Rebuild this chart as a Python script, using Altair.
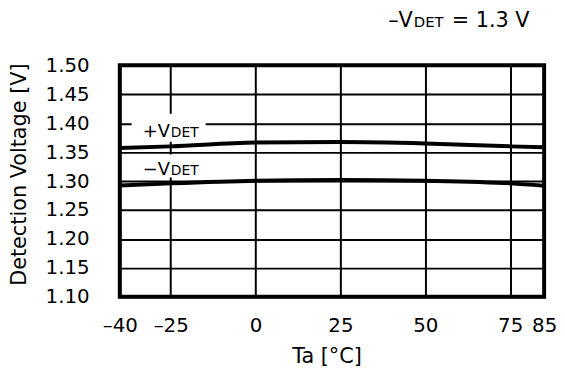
import altair as alt
import pandas as pd

# ---- data ----
temps = [-40, -25, 0, 25, 50, 75, 85]
v_plus = [1.357, 1.360, 1.3665, 1.3675, 1.365, 1.360, 1.3585]
v_minus = [1.2925, 1.296, 1.3005, 1.302, 1.3005, 1.296, 1.292]
x_ticks = [-40, -25, 0, 25, 50, 75, 85]
y_ticks = [1.10, 1.15, 1.20, 1.25, 1.30, 1.35, 1.40, 1.45, 1.50]

# annotation text (positions in data units)
main_text = ["+V", "\u2212V", "\u2013V"]
main_x = [-25.25, -25.25, 46.3]
main_y = [1.377, 1.310, 1.5655]
main_size = [18, 18, 21]
sub_text = ["DET", "DET", "DET"]
sub_size = [14, 14, 15]
tail_text = ["= 1.3 V"]
tail_x = [80.7]
tail_y = [1.5655]
tail_size = [21]

# white label backgrounds (data units)
box_x1 = [-36.5, -36.5]
box_x2 = [-14.7, -14.7]
box_y1 = [1.368, 1.306]
box_y2 = [1.4165, 1.346]

FONT = "DejaVu Sans"

curves = pd.DataFrame({
    "Ta": temps + temps,
    "V": v_plus + v_minus,
    "series": ["+VDET"] * len(temps) + ["-VDET"] * len(temps),
})
main_df = pd.DataFrame({"Ta": main_x, "V": main_y, "t": main_text, "s": main_size})
sub_df = pd.DataFrame({"Ta": main_x, "V": main_y, "t": sub_text, "s": sub_size})
tail_df = pd.DataFrame({"Ta": tail_x, "V": tail_y, "t": tail_text, "s": tail_size})
box_df = pd.DataFrame({"Ta": box_x1, "Ta2": box_x2, "V": box_y1, "V2": box_y2})

xs = alt.Scale(domain=[-40, 85], nice=False, zero=False)
ys = alt.Scale(domain=[1.10, 1.50], nice=False, zero=False)

x_axis = alt.Axis(
    values=x_ticks, title="Ta [\u00b0C]",
    labelExpr="datum.value < 0 ? '\u2013' + (-datum.value) : datum.label",
    grid=True, gridColor="black", gridWidth=2, gridOpacity=1,
    domain=False, ticks=False, tickSize=0,
    labelFlush=False, labelOverlap=False,
    labelPadding=19, labelFont=FONT, labelFontSize=20, labelColor="black",
    titleFont=FONT, titleFontSize=21, titleFontWeight="normal", titleColor="black",
    titlePadding=10, titleX=209,
)
y_axis = alt.Axis(
    values=y_ticks, format=".2f", title="Detection Voltage [V]",
    grid=True, gridColor="black", gridWidth=2, gridOpacity=1,
    domain=False, ticks=False, tickSize=0,
    labelFlush=False, labelOverlap=False,
    labelPadding=31, labelFont=FONT, labelFontSize=20, labelColor="black",
    titleFont=FONT, titleFontSize=21, titleFontWeight="normal", titleColor="black",
    titlePadding=16, titleY=110,
)

X = alt.X("Ta:Q", scale=xs, axis=x_axis)
Y = alt.Y("V:Q", scale=ys, axis=y_axis)

lines = alt.Chart(curves).mark_line(
    color="black", strokeWidth=4, interpolate="monotone"
).encode(x=X, y=Y, detail="series:N")

boxes = alt.Chart(box_df).mark_rect(color="white", opacity=1).encode(
    x=X, x2="Ta2:Q", y=Y, y2="V2:Q",
)

def text_layer(df, align, dx=0):
    return alt.Chart(df).mark_text(
        align=align, baseline="alphabetic", font=FONT, color="black", dx=dx
    ).encode(
        x=X, y=Y, text="t:N",
        size=alt.Size("s:Q", scale=None, legend=None),
    )

main_lbl = text_layer(main_df, "right")
sub_lbl = text_layer(sub_df, "left", 1)
tail_lbl = text_layer(tail_df, "right")

chart = alt.layer(boxes, lines, main_lbl, sub_lbl, tail_lbl).properties(
    width=429, height=234,
    padding={"left": 0, "top": 0, "right": 0, "bottom": 0},
    background="white",
).configure_view(stroke="black", strokeWidth=4)

chart.save("out.html", embed_options={"renderer": "svg", "actions": False})
